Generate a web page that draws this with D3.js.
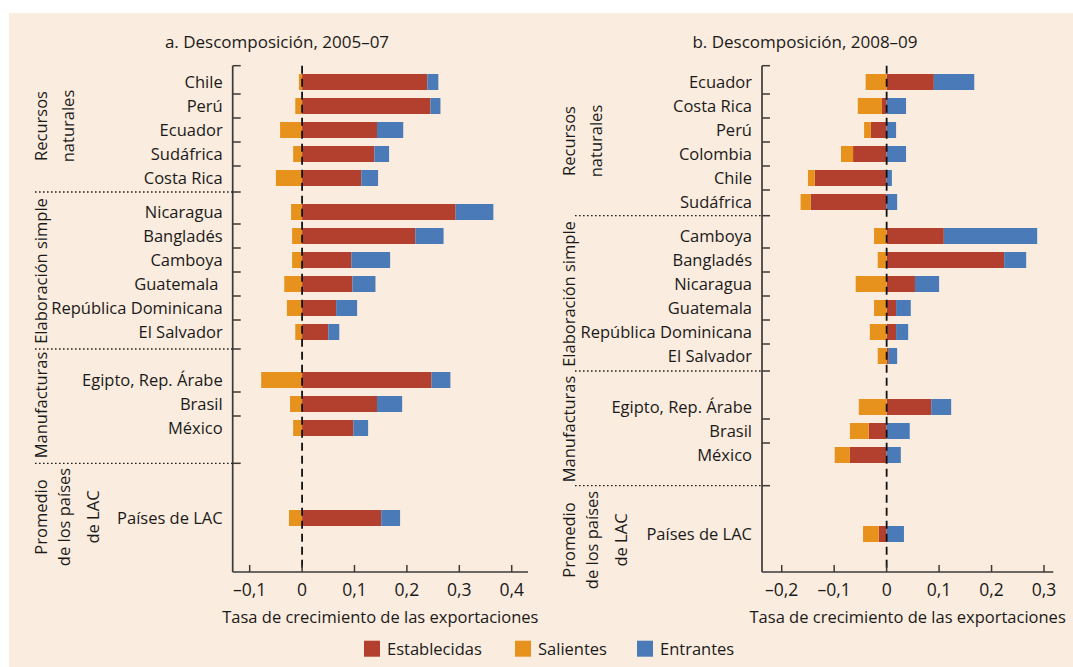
<!DOCTYPE html>
<html>
<head>
<meta charset="utf-8">
<script src="https://cdn.jsdelivr.net/npm/d3@7"></script>
<style>
  html, body { margin: 0; padding: 0; background: #ffffff; }
  svg { display: block; }
  text { font-family: "Open Sans", "Noto Sans", sans-serif; fill: #1a1a1a; }
</style>
</head>
<body>
<svg id="chart" width="1073" height="667"></svg>
<script>
// ---------------- DATA ----------------
const seriesKeys = ["Establecidas", "Salientes", "Entrantes"];
const seriesColors = ["#b3402e", "#e8921e", "#4a7bb8"];

const titleA = "a. Descomposición, 2005–07";
const titleB = "b. Descomposición, 2008–09";
const axisTitle = "Tasa de crecimiento de las exportaciones";

const sectionNames = [
  ["Recursos", "naturales"],
  ["Elaboración simple"],
  ["Manufacturas"],
  ["Promedio", "de los países", "de LAC"]
];

// Panel a (2005–07)
const countriesA = ["Chile", "Perú", "Ecuador", "Sudáfrica", "Costa Rica",
  "Nicaragua", "Bangladés", "Camboya", "Guatemala\u00A0", "República Dominicana", "El Salvador",
  "Egipto, Rep. Árabe", "Brasil", "México",
  "Países de LAC"];
const sectionOfA = [0,0,0,0,0, 1,1,1,1,1,1, 2,2,2, 3];
const establecidasA = [0.239, 0.245, 0.143, 0.138, 0.113, 0.293, 0.216, 0.094, 0.096, 0.065, 0.050, 0.247, 0.143, 0.098, 0.151];
const salientesA    = [-0.006, -0.013, -0.042, -0.017, -0.050, -0.021, -0.019, -0.019, -0.034, -0.029, -0.013, -0.078, -0.023, -0.017, -0.025];
const entrantesA    = [0.021, 0.019, 0.050, 0.028, 0.032, 0.072, 0.054, 0.074, 0.044, 0.040, 0.021, 0.036, 0.048, 0.028, 0.036];
const ticksA = [-0.1, 0, 0.1, 0.2, 0.3, 0.4];
const tickLabelsA = ["–0,1", "0", "0,1", "0,2", "0,3", "0,4"];

// Panel b (2008–09)
const countriesB = ["Ecuador", "Costa Rica", "Perú", "Colombia", "Chile", "Sudáfrica",
  "Camboya", "Bangladés", "Nicaragua", "Guatemala", "República Dominicana", "El Salvador",
  "Egipto, Rep. Árabe", "Brasil", "México",
  "Países de LAC"];
const sectionOfB = [0,0,0,0,0,0, 1,1,1,1,1,1, 2,2,2, 3];
const establecidasB = [0.090, -0.009, -0.030, -0.064, -0.137, -0.145, 0.109, 0.224, 0.054, 0.018, 0.018, 0.004, 0.085, -0.034, -0.070, -0.015];
const salientesB    = [-0.040, -0.046, -0.013, -0.023, -0.013, -0.019, -0.024, -0.017, -0.059, -0.024, -0.032, -0.017, -0.053, -0.036, -0.029, -0.030];
const entrantesB    = [0.077, 0.037, 0.018, 0.037, 0.010, 0.020, 0.178, 0.042, 0.046, 0.028, 0.023, 0.016, 0.038, 0.044, 0.027, 0.033];
const ticksB = [-0.2, -0.1, 0, 0.1, 0.2, 0.3];
const tickLabelsB = ["–0,2", "–0,1", "0", "0,1", "0,2", "0,3"];

// ---------------- LAYOUT ----------------
const W = 1073, H = 667;
const bg = "#faecde";
const axisColor = "#3d3a38";
const fontSize = 16.5;

const panels = [
  {
    title: titleA, titleX: 277,
    countries: countriesA, sectionOf: sectionOfA,
    values: [establecidasA, salientesA, entrantesA],
    ticks: ticksA, tickLabels: tickLabelsA,
    xDomain: [-0.1324, 0.4311], xRange: [232.7, 528],
    sectionBounds: [65.7, 192, 349, 463.3, 572],
    rowMid: [130, 272, 404, 518],
    labelMid: [126, 271, 405, 517],
    labelX: 47, sepStart: 35
  },
  {
    title: titleB, titleX: 805,
    countries: countriesB, sectionOf: sectionOfB,
    values: [establecidasB, salientesB, entrantesB],
    ticks: ticksB, tickLabels: tickLabelsB,
    xDomain: [-0.2376, 0.3177], xRange: [762, 1053.3],
    sectionBounds: [65.7, 215.7, 371, 485.7, 572],
    rowMid: [142, 296, 431, 534],
    labelMid: [141, 294, 429, 540],
    labelX: 575, sepStart: 575
  }
];
const lineOffsets = { 1: [0], 2: [0, 27], 3: [0, 23, 52] };
const rowStep = 24;
const tickLen = 8;

const svg = d3.select("#chart");
svg.append("rect").attr("x", 9).attr("y", 13).attr("width", W - 9).attr("height", H - 13).attr("fill", bg);

panels.forEach(p => {
  const g = svg.append("g");
  const x = d3.scaleLinear().domain(p.xDomain).range(p.xRange);
  const axisX = p.xRange[0];
  const yTop = p.sectionBounds[0], yBot = p.sectionBounds[p.sectionBounds.length - 1];

  // per-section band scales
  const yScales = sectionNames.map((_, s) => {
    const names = p.countries.filter((c, i) => p.sectionOf[i] === s);
    const half = names.length * rowStep / 2;
    return d3.scaleBand().domain(names)
      .range([p.rowMid[s] - half, p.rowMid[s] + half])
      .paddingInner(1/3).paddingOuter(1/6);
  });
  const yOf = (c, i) => yScales[p.sectionOf[i]](c);
  const bw = yScales[0].bandwidth();

  // stacked data
  const rows = p.countries.map((c, i) => {
    const o = { country: c, idx: i };
    seriesKeys.forEach((k, j) => o[k] = p.values[j][i]);
    return o;
  });
  const stacked = d3.stack().keys(seriesKeys).offset(d3.stackOffsetDiverging)(rows);

  // bars
  stacked.forEach((layer, j) => {
    g.append("g").selectAll("rect").data(layer).join("rect")
      .attr("x", d => x(Math.min(d[0], d[1])))
      .attr("width", d => Math.abs(x(d[1]) - x(d[0])))
      .attr("y", d => yOf(d.data.country, d.data.idx))
      .attr("height", bw)
      .attr("fill", seriesColors[j]);
  });

  // zero dashed line
  g.append("line")
    .attr("x1", x(0)).attr("x2", x(0)).attr("y1", yTop).attr("y2", yBot)
    .attr("stroke", "#111").attr("stroke-width", 1.8).attr("stroke-dasharray", "8,5");

  // y axis line
  g.append("line").attr("x1", axisX).attr("x2", axisX).attr("y1", yTop).attr("y2", yBot)
    .attr("stroke", axisColor).attr("stroke-width", 1.7);

  // y ticks: section bounds (except bottom) and between rows
  const tickYs = [];
  p.sectionBounds.slice(0, -1).forEach(b => tickYs.push(b));
  yScales.forEach(sc => {
    const d = sc.domain();
    for (let k = 1; k < d.length; k++) tickYs.push(sc(d[k]) - (sc.step() - sc.bandwidth()) / 2);
  });
  g.append("g").selectAll("line").data(tickYs).join("line")
    .attr("x1", axisX).attr("x2", axisX + tickLen)
    .attr("y1", d => d).attr("y2", d => d)
    .attr("stroke", axisColor).attr("stroke-width", 1.5);

  // dotted section separators
  g.append("g").selectAll("line").data(p.sectionBounds.slice(1, -1)).join("line")
    .attr("x1", p.sepStart).attr("x2", axisX)
    .attr("y1", d => d).attr("y2", d => d)
    .attr("stroke", "#222").attr("stroke-width", 1.3).attr("stroke-dasharray", "1.6,2.4");

  // x axis
  g.append("line").attr("x1", p.xRange[0]).attr("x2", p.xRange[1]).attr("y1", yBot).attr("y2", yBot)
    .attr("stroke", axisColor).attr("stroke-width", 1.7);
  g.append("g").selectAll("line").data(p.ticks).join("line")
    .attr("x1", d => x(d)).attr("x2", d => x(d))
    .attr("y1", yBot).attr("y2", yBot - 7)
    .attr("stroke", axisColor).attr("stroke-width", 1.5);
  g.append("g").selectAll("text").data(p.ticks).join("text")
    .attr("x", d => x(d)).attr("y", yBot + 24)
    .attr("text-anchor", "middle").attr("font-size", fontSize + 1)
    .text((d, i) => p.tickLabels[i]);

  // axis title
  g.append("text").attr("x", (p.xRange[0] + p.xRange[1]) / 2).attr("y", yBot + 51)
    .attr("text-anchor", "middle").attr("font-size", fontSize).text(axisTitle);

  // panel title
  g.append("text").attr("x", p.titleX).attr("y", 48)
    .attr("text-anchor", "middle").attr("font-size", fontSize + 0.5).text(p.title);

  // country labels
  g.append("g").selectAll("text").data(rows).join("text")
    .attr("x", axisX - 10)
    .attr("y", d => yOf(d.country, d.idx) + bw / 2)
    .attr("dy", "0.35em")
    .attr("text-anchor", "end").attr("font-size", fontSize)
    .style("white-space", "pre")
    .text(d => d.country);

  // section labels (rotated)
  sectionNames.forEach((lines, s) => {
    const offs = lineOffsets[lines.length];
    lines.forEach((ln, k) => {
      const bx = p.labelX + offs[k], cy = p.labelMid[s];
      g.append("text")
        .attr("transform", `translate(${bx},${cy}) rotate(-90)`)
        .attr("text-anchor", "middle").attr("font-size", fontSize)
        .text(ln);
    });
  });
});

// legend
const legendX = [364, 515, 637];
const lg = svg.append("g");
seriesKeys.forEach((k, j) => {
  lg.append("rect").attr("x", legendX[j]).attr("y", 640.7).attr("width", 16).attr("height", 16).attr("fill", seriesColors[j]);
  lg.append("text").attr("x", legendX[j] + 23).attr("y", 655).attr("font-size", fontSize).text(k);
});
</script>
</body>
</html>
